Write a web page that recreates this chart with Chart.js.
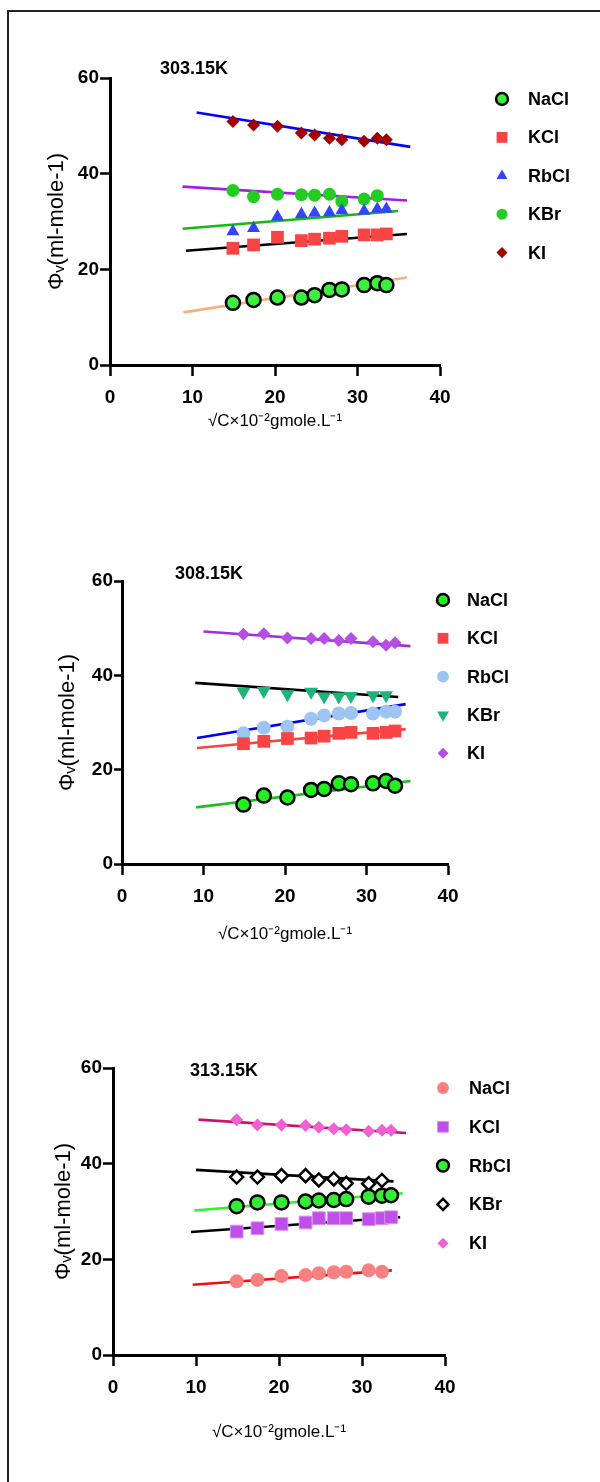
<!DOCTYPE html>
<html>
<head>
<meta charset="utf-8">
<script src="https://cdn.jsdelivr.net/npm/chart.js@4.4.1/dist/chart.umd.min.js"></script>
<style>
  html, body { margin: 0; padding: 0; background: #fff; width: 600px; height: 1482px; overflow: hidden; }
  #frame { position: absolute; left: 7px; top: 10px; width: 700px; height: 1600px; border: 2px solid #222; box-sizing: border-box; }
  canvas { position: absolute; left: 0; }
</style>
</head>
<body>
<div id="frame"></div>
<canvas id="c303" width="600" height="440" style="top:30px;width:600px;height:440px"></canvas>
<canvas id="c308" width="600" height="440" style="top:530px;width:600px;height:440px"></canvas>
<canvas id="c313" width="600" height="440" style="top:1020px;width:600px;height:440px"></canvas>
<script>
// √C (x10^-2 gmole/L), same for every salt
const sqrtC = [14.9, 17.4, 20.3, 23.2, 24.8, 26.6, 28.1, 30.8, 32.4, 33.5];
const salts = ['NaCl', 'KCl', 'RbCl', 'KBr', 'KI'];
const xTicks = [0, 10, 20, 30, 40];
const yTicks = [0, 20, 40, 60];

// 303.15K
const nacl303 = [13.0, 13.6, 14.1, 14.1, 14.6, 15.7, 15.8, 16.7, 17.1, 16.7];
const kcl303  = [24.4, 25.1, 26.7, 26.0, 26.3, 26.5, 26.9, 27.2, 27.2, 27.4];
const rbcl303 = [27.9, 28.6, 31.0, 31.5, 31.8, 31.9, 32.3, 32.2, 32.6, 32.6];
const kbr303  = [36.5, 35.2, 35.7, 35.6, 35.5, 35.7, 34.2, 34.7, 35.4, null];
const ki303   = [50.9, 50.2, 49.9, 48.5, 48.1, 47.4, 47.1, 46.8, 47.4, 47.1];
const fitX303 = [[8.9, 36.0], [9.2, 36.0], [8.8, 34.9], [8.8, 36.0], [10.5, 36.4]];
const fitY303 = [[11.0, 18.3], [23.9, 27.4], [28.5, 32.2], [37.3, 34.4], [52.8, 45.6]];

// 308.15K
const nacl308 = [12.6, 14.5, 14.1, 15.7, 15.9, 17.1, 16.9, 17.1, 17.6, 16.6];
const kcl308  = [25.5, 26.0, 26.6, 26.7, 27.1, 27.7, 27.9, 27.7, 27.9, 28.2];
const rbcl308 = [27.7, 28.9, 29.1, 30.8, 31.5, 31.9, 32.0, 31.9, 32.3, 32.3];
const kbr308  = [36.5, 36.7, 36.0, 36.5, 35.5, 35.5, 35.6, 35.8, 35.8, null];
const ki308   = [48.7, 48.8, 47.9, 47.8, 47.8, 47.4, 47.8, 47.1, 46.4, 46.9];
const fitX308 = [[9.1, 35.4], [9.2, 34.8], [9.2, 34.8], [9.0, 33.9], [10.0, 35.4]];
const fitY308 = [[12.0, 17.6], [24.6, 28.6], [26.7, 33.9], [38.4, 35.4], [49.3, 46.2]];

// 313.15K
const nacl313 = [15.4, 15.7, 16.5, 16.7, 17.1, 17.3, 17.4, 17.7, 17.4, null];
const kcl313  = [25.8, 26.5, 27.4, 27.7, 28.6, 28.6, 28.6, 28.4, 28.6, 28.8];
const rbcl313 = [31.1, 31.9, 31.9, 32.1, 32.3, 32.4, 32.6, 33.1, 33.3, 33.4];
const kbr313  = [37.2, 37.2, 37.5, 37.5, 36.6, 36.8, 35.9, 35.8, 36.5, null];
const ki313   = [49.2, 48.1, 48.1, 48.0, 47.6, 47.3, 47.1, 46.8, 47.0, 47.0];
const fitX313 = [[9.6, 33.6], [9.4, 34.6], [9.8, 34.9], [10.0, 33.8], [10.3, 35.3]];
const fitY313 = [[14.7, 17.7], [25.7, 28.8], [30.2, 33.8], [38.7, 36.3], [49.2, 46.4]];

Chart.defaults.font.family = '"Liberation Sans", Arial, sans-serif';
Chart.defaults.color = '#000';

// panel title + legend on the right side
const sideNotes = {
  id: 'sideNotes',
  afterDatasetsDraw(chart, args, o) {
    const ctx = chart.ctx;
    ctx.save();
    ctx.textBaseline = 'middle';
    ctx.fillStyle = '#000';
    ctx.font = 'bold 18px "Liberation Sans", Arial, sans-serif';
    ctx.fillText(o.title, o.titleX, o.titleY);
    let row = 0;
    chart.data.datasets.forEach(ds => {
      if (ds.type !== 'scatter') return;
      const y = o.top + row * o.step;
      ctx.fillStyle = ds.backgroundColor;
      ctx.strokeStyle = ds.borderColor;
      ctx.lineWidth = ds.borderWidth;
      Chart.helpers.drawPoint(ctx, {
        pointStyle: ds.pointStyle, rotation: ds.rotation,
        radius: ds.pointRadius * 0.85, borderWidth: ds.borderWidth
      }, o.markX, y);
      ctx.fillStyle = '#000';
      ctx.fillText(ds.label, o.textX, y + 1);
      row++;
    });
    ctx.restore();
  }
};

function panel(id, o) {
  const datasets = [];
  o.series.forEach((vals, i) => {
    const m = o.marks[i];
    datasets.push({
      type: 'scatter',
      label: salts[i],
      data: sqrtC.map((x, k) => ({x: x, y: vals[k]})).filter(p => p.y !== null),
      pointStyle: m.shape,
      rotation: m.rot || 0,
      pointRadius: m.r,
      pointHoverRadius: m.r,
      backgroundColor: m.fill,
      borderColor: m.edge || m.fill,
      borderWidth: m.bw || 0
    });
  });
  o.fitX.forEach((xs, i) => {
    datasets.push({
      type: 'line',
      label: salts[i] + ' fit',
      data: [{x: xs[0], y: o.fitY[i][0]}, {x: xs[1], y: o.fitY[i][1]}],
      borderColor: o.lines[i],
      borderWidth: 2.6,
      pointRadius: 0,
      fill: false
    });
  });

  const tickFont = {size: 19, weight: 'bold'};
  new Chart(document.getElementById(id), {
    data: {datasets: datasets},
    plugins: [sideNotes],
    options: {
      responsive: false,
      animation: false,
      layout: {padding: {top: o.top, right: o.right, left: 0, bottom: 0}},
      plugins: {
        legend: {display: false},
        tooltip: {enabled: false},
        sideNotes: o.notes
      },
      scales: {
        x: {
          type: 'linear', min: 0, max: 40,
          afterBuildTicks: s => { s.ticks = xTicks.map(v => ({value: v})); },
          afterFit: s => { s.height = o.xH; },
          ticks: {font: tickFont, color: '#000', padding: 10, maxRotation: 0},
          grid: {drawOnChartArea: false, drawTicks: true, tickLength: 11, tickWidth: 2.5, tickColor: '#000', color: '#000'},
          border: {display: true, color: '#000', width: 3},
          title: {display: true, text: '√C×10⁻²gmole.L⁻¹', font: {size: 17}, color: '#000', padding: {top: 0, bottom: o.xTitlePad}}
        },
        y: {
          type: 'linear', min: 0, max: 60,
          afterBuildTicks: s => { s.ticks = yTicks.map(v => ({value: v})); },
          afterFit: s => { s.width = o.yW; },
          ticks: {font: tickFont, color: '#000', padding: 1},
          grid: {drawOnChartArea: false, drawTicks: true, tickLength: o.yTick, tickWidth: 2.5, tickColor: '#000', color: '#000'},
          border: {display: true, color: '#000', width: 3},
          title: {display: true, text: 'Φᵥ(ml-mole-1)', font: {size: 22}, color: '#000', padding: {top: o.yTitlePad, bottom: 0}}
        }
      }
    }
  });
}

panel('c303', {
  series: [nacl303, kcl303, rbcl303, kbr303, ki303],
  fitX: fitX303, fitY: fitY303,
  marks: [
    {shape: 'circle', r: 7, fill: '#3ef03e', edge: '#000', bw: 2.5},
    {shape: 'rect', r: 9, fill: '#f84444'},
    {shape: 'triangle', r: 7.5, fill: '#3344ff'},
    {shape: 'circle', r: 6.5, fill: '#22cc22'},
    {shape: 'rectRot', r: 6.5, fill: '#a50000'}
  ],
  lines: ['#f5b07c', '#000000', '#11bb11', '#a020e0', '#0000ff'],
  top: 48, right: 160, yW: 110, xH: 105, yTick: 10, yTitlePad: 44, xTitlePad: 38,
  notes: {title: '303.15K', titleX: 160, titleY: 39, markX: 502, textX: 528, top: 69, step: 38.4}
});

panel('c308', {
  series: [nacl308, kcl308, rbcl308, kbr308, ki308],
  fitX: fitX308, fitY: fitY308,
  marks: [
    {shape: 'circle', r: 7, fill: '#22ee22', edge: '#000', bw: 2.5},
    {shape: 'rect', r: 9, fill: '#f84444'},
    {shape: 'circle', r: 7, fill: '#9ec4f2'},
    {shape: 'triangle', rot: 180, r: 8, fill: '#1db47a'},
    {shape: 'rectRot', r: 6.5, fill: '#b44ee4'}
  ],
  lines: ['#22bb22', '#f84444', '#0000ee', '#000000', '#a030d8'],
  top: 51, right: 152, yW: 122, xH: 106, yTick: 8, yTitlePad: 55, xTitlePad: 25,
  notes: {title: '308.15K', titleX: 175, titleY: 44, markX: 443, textX: 467, top: 70, step: 38.3}
});

panel('c313', {
  series: [nacl313, kcl313, rbcl313, kbr313, ki313],
  fitX: fitX313, fitY: fitY313,
  marks: [
    {shape: 'circle', r: 7, fill: '#f88080'},
    {shape: 'rect', r: 9, fill: '#c04ee8', edge: '#d890f0', bw: 1},
    {shape: 'circle', r: 7, fill: '#33ee33', edge: '#000', bw: 2.5},
    {shape: 'rectRot', r: 6.5, fill: '#ffffff', edge: '#000', bw: 2.5},
    {shape: 'rectRot', r: 6.5, fill: '#f060d0'}
  ],
  lines: ['#ee1111', '#000000', '#33ee33', '#000000', '#cc1166'],
  top: 48, right: 155, yW: 113, xH: 105, yTick: 10, yTitlePad: 51, xTitlePad: 17,
  notes: {title: '313.15K', titleX: 190, titleY: 51, markX: 443, textX: 469, top: 68, step: 38.8}
});
</script>
</body>
</html>
